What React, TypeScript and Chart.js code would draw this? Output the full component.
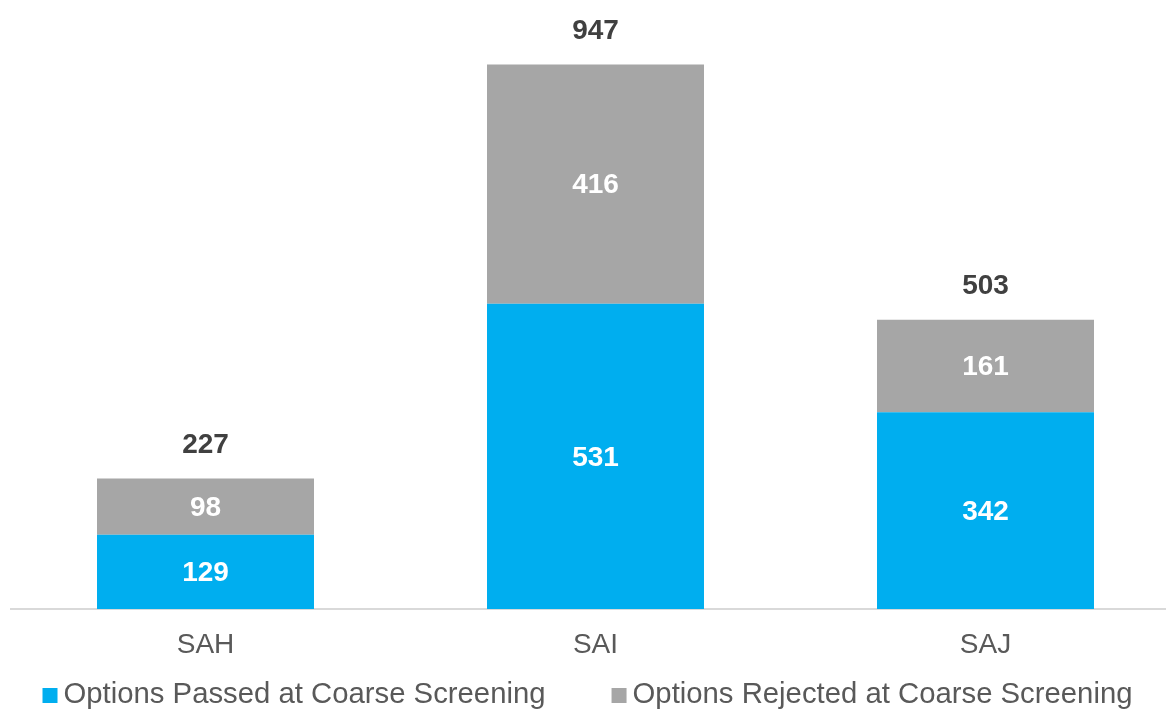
import React, { useEffect, useRef } from "react";
import { Chart, registerables } from "chart.js";

Chart.register(...registerables);

const categories = ["SAH", "SAI", "SAJ"];
const passedValues = [129, 531, 342];
const rejectedValues = [98, 416, 161];
const seriesLabels = [
  "Options Passed at Coarse Screening",
  "Options Rejected at Coarse Screening",
];
const seriesColors = ["#00AEEF", "#A6A6A6"];

const FONT = "'Liberation Sans', Arial, sans-serif";

const labelPlugin = {
  id: "segmentLabels",
  afterDatasetsDraw(chart: any) {
    const ctx = chart.ctx;
    ctx.save();
    ctx.textAlign = "center";
    ctx.textBaseline = "middle";
    ctx.font = `bold 28px ${FONT}`;
    const n = chart.data.labels.length;
    const tops: number[] = new Array(n).fill(Infinity);
    const totals: number[] = new Array(n).fill(0);
    const xs: number[] = new Array(n).fill(0);
    chart.data.datasets.forEach((ds: any, di: number) => {
      const meta = chart.getDatasetMeta(di);
      meta.data.forEach((el: any, i: number) => {
        const v = ds.data[i];
        totals[i] += v;
        xs[i] = el.x;
        tops[i] = Math.min(tops[i], el.y);
        ctx.fillStyle = "#FFFFFF";
        ctx.fillText(String(v), el.x, (el.y + el.base) / 2 + 1.5);
      });
    });
    ctx.fillStyle = "#404040";
    for (let i = 0; i < n; i++) {
      ctx.fillText(String(totals[i]), xs[i], tops[i] - 33);
    }
    ctx.restore();
  },
};

const legendPlugin = {
  id: "customLegend",
  afterDraw(chart: any) {
    const ctx = chart.ctx;
    ctx.save();
    ctx.font = `29.3px ${FONT}`;
    ctx.textBaseline = "middle";
    ctx.textAlign = "left";
    const box = 15;
    const gap = 6;
    const spacing = 66;
    const items = chart.data.datasets.map((ds: any) => ({
      text: ds.label,
      color: ds.backgroundColor,
      w: ctx.measureText(ds.label).width,
    }));
    let total = 0;
    items.forEach((it: any, i: number) => {
      total += box + gap + it.w + (i < items.length - 1 ? spacing : 0);
    });
    const center = 587.5;
    let x = center - total / 2;
    const cy = 695.5;
    items.forEach((it: any) => {
      ctx.fillStyle = it.color;
      ctx.fillRect(x, cy - box / 2, box, box);
      x += box + gap;
      ctx.fillStyle = "#595959";
      ctx.fillText(it.text, x, cy - 1);
      x += it.w + spacing;
    });
    ctx.restore();
  },
};

export default function App() {
  const ref = useRef<HTMLCanvasElement | null>(null);
  useEffect(() => {
    document.body.style.margin = "0";
    if (!ref.current) return;
    const chart = new Chart(ref.current, {
      type: "bar",
      data: {
        labels: categories,
        datasets: [
          {
            label: seriesLabels[0],
            data: passedValues,
            backgroundColor: seriesColors[0],
            barPercentage: 0.5564,
            categoryPercentage: 1,
          },
          {
            label: seriesLabels[1],
            data: rejectedValues,
            backgroundColor: seriesColors[1],
            barPercentage: 0.5564,
            categoryPercentage: 1,
          },
        ],
      },
      options: {
        animation: false,
        responsive: false,
        maintainAspectRatio: false,
        layout: {
          padding: { top: 34, left: 10.5, right: 0.5, bottom: 36.4 },
        },
        plugins: {
          legend: { display: false },
          tooltip: { enabled: false },
        },
        scales: {
          x: {
            stacked: true,
            grid: { display: false },
            border: { display: true, color: "#D9D9D9", width: 2 },
            ticks: {
              color: "#595959",
              font: { family: FONT, size: 28 },
              padding: 11,
            },
          },
          y: {
            stacked: true,
            display: false,
            min: 0,
            max: 1000,
          },
        },
      },
      plugins: [labelPlugin, legendPlugin],
    });
    return () => chart.destroy();
  }, []);
  return (
    <div style={{ width: 1166, height: 709, overflow: "hidden", position: "relative", background: "#fff" }}>
      <canvas ref={ref} width={1181} height={709} style={{ display: "block", width: 1181, height: 709 }} />
    </div>
  );
}
